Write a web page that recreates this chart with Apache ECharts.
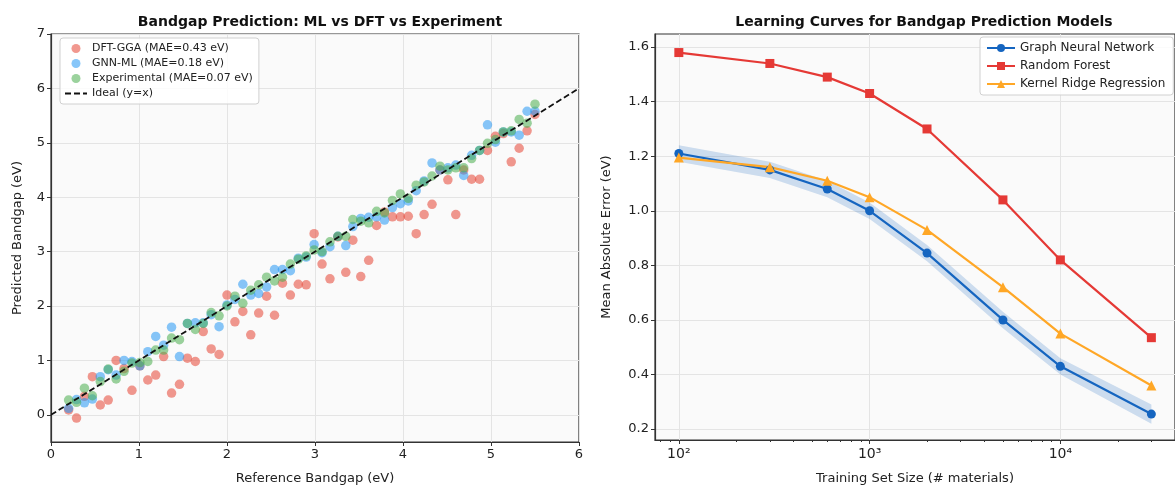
<!DOCTYPE html>
<html>
<head>
<meta charset="utf-8">
<script src="https://cdn.jsdelivr.net/npm/echarts@6/dist/echarts.min.js"></script>
<style>
  html, body { margin: 0; padding: 0; background: #fff; }
  #chart { width: 1175px; height: 490px; }
</style>
</head>
<body>
<div id="chart"></div>
<script>
// ---- left panel: predicted vs reference bandgap ----
const refGap = [0.20, 0.29, 0.38, 0.47, 0.56, 0.65, 0.74, 0.83, 0.92, 1.01,
  1.10, 1.19, 1.28, 1.37, 1.46, 1.55, 1.64, 1.73, 1.82, 1.91,
  2.00, 2.09, 2.18, 2.27, 2.36, 2.45, 2.54, 2.63, 2.72, 2.81,
  2.90, 2.99, 3.08, 3.17, 3.26, 3.35, 3.43, 3.52, 3.61, 3.70,
  3.79, 3.88, 3.97, 4.06, 4.15, 4.24, 4.33, 4.42, 4.51, 4.60,
  4.69, 4.78, 4.87, 4.96, 5.05, 5.14, 5.23, 5.32, 5.41, 5.50];
const dftPred = [0.09, -0.06, 0.34, 0.70, 0.18, 0.27, 1.00, 0.85, 0.45, 0.90,
  0.64, 0.73, 1.07, 0.40, 0.56, 1.04, 0.98, 1.53, 1.21, 1.11,
  2.20, 1.71, 1.90, 1.47, 1.87, 2.18, 1.83, 2.42, 2.20, 2.40,
  2.39, 3.33, 2.77, 2.50, 3.27, 2.62, 3.21, 2.54, 2.84, 3.48,
  3.73, 3.64, 3.64, 3.65, 3.33, 3.68, 3.87, 4.50, 4.32, 3.68,
  4.50, 4.33, 4.33, 4.86, 5.12, 5.17, 4.65, 4.90, 5.22, 5.52];
const gnnPred = [0.12, 0.28, 0.22, 0.29, 0.70, 0.83, 0.73, 1.00, 0.98, 0.90,
  1.16, 1.44, 1.28, 1.61, 1.07, 1.68, 1.69, 1.69, 1.84, 1.62,
  2.02, 2.12, 2.40, 2.20, 2.23, 2.35, 2.67, 2.67, 2.65, 2.88,
  2.90, 3.13, 2.98, 3.09, 3.28, 3.11, 3.46, 3.61, 3.63, 3.64,
  3.58, 3.81, 3.88, 3.93, 4.12, 4.30, 4.63, 4.50, 4.54, 4.59,
  4.40, 4.77, 4.86, 5.33, 5.01, 5.20, 5.20, 5.14, 5.58, 5.58];
const expPred = [0.27, 0.23, 0.49, 0.35, 0.61, 0.84, 0.66, 0.80, 0.95, 0.96,
  0.98, 1.19, 1.19, 1.41, 1.38, 1.68, 1.57, 1.68, 1.88, 1.82,
  2.00, 2.18, 2.05, 2.29, 2.39, 2.53, 2.46, 2.53, 2.77, 2.86,
  2.92, 3.03, 3.00, 3.18, 3.28, 3.28, 3.59, 3.56, 3.53, 3.74,
  3.71, 3.94, 4.06, 3.98, 4.22, 4.28, 4.39, 4.57, 4.50, 4.54,
  4.54, 4.71, 4.86, 4.99, 5.06, 5.20, 5.22, 5.43, 5.36, 5.71];
const idealLine = [[0, 0], [6, 6]];
const leftYTicks = [0, 1, 2, 3, 4, 5, 6, 7];

// ---- right panel: learning curves ----
const trainSize = [100, 300, 600, 1000, 2000, 5000, 10000, 30000];
const gnnMae = [1.21, 1.15, 1.08, 1.00, 0.845, 0.60, 0.43, 0.255];
const gnnStd = [0.03, 0.03, 0.03, 0.03, 0.03, 0.03, 0.03, 0.035];
const rfMae = [1.58, 1.54, 1.49, 1.43, 1.30, 1.04, 0.82, 0.535];
const krrMae = [1.195, 1.16, 1.11, 1.05, 0.93, 0.72, 0.55, 0.36];
const rightYTicks = [0.2, 0.4, 0.6, 0.8, 1.0, 1.2, 1.4, 1.6];
const majorTicks = [100, 1000, 10000];
const minorTicks = [80, 90, 200, 300, 400, 500, 600, 700, 800, 900,
  2000, 3000, 4000, 5000, 6000, 7000, 8000, 9000, 20000, 30000];

const FONT = "DejaVu Sans";
const axisColor = "#333";
const gridLine = { show: true, lineStyle: { color: "#e4e4e4", width: 1 } };
const supers = { "2": "\u00b2", "3": "\u00b3", "4": "\u2074" };

function pairs(xs, ys) {
  return xs.map((x, i) => [x, ys[i]]);
}

// one polygon for the +/- band, drawn through the axis scales
function renderBand(params, api) {
  if (params.dataIndex !== 0) return;
  const upper = trainSize.map((x, i) => api.coord([x, gnnMae[i] + gnnStd[i]]));
  const lower = trainSize.map((x, i) => api.coord([x, gnnMae[i] - gnnStd[i]])).reverse();
  return {
    type: "polygon",
    shape: { points: upper.concat(lower) },
    style: { fill: "rgba(21,101,192,0.2)" },
    silent: true,
  };
}

const chart = echarts.init(document.getElementById("chart"));

const option = {
  backgroundColor: "#fff",
  textStyle: { fontFamily: FONT },
  title: [
    {
      text: "Bandgap Prediction: ML vs DFT vs Experiment",
      left: 315, top: 10, textAlign: "center",
      textStyle: { fontFamily: FONT, fontSize: 14, fontWeight: "bold", color: "#111" },
    },
    {
      text: "Learning Curves for Bandgap Prediction Models",
      left: 919, top: 10, textAlign: "center",
      textStyle: { fontFamily: FONT, fontSize: 14, fontWeight: "bold", color: "#111" },
    },
  ],
  legend: [
    {
      data: [
        "DFT-GGA (MAE=0.43 eV)",
        "GNN-ML (MAE=0.18 eV)",
        "Experimental (MAE=0.07 eV)",
        { name: "Ideal (y=x)", itemStyle: { opacity: 0 } },
      ],
      orient: "vertical",
      left: 60, top: 38,
      itemWidth: 22, itemHeight: 9, itemGap: 4,
      padding: [5, 6, 5, 4],
      backgroundColor: "rgba(255,255,255,0.85)",
      borderColor: "#d0d0d0", borderWidth: 1, borderRadius: 3,
      textStyle: { fontFamily: FONT, fontSize: 11, color: "#222" },
    },
    {
      data: ["Graph Neural Network", "Random Forest", "Kernel Ridge Regression"],
      orient: "vertical",
      left: 980, top: 37,
      itemWidth: 28, itemHeight: 10, itemGap: 6,
      padding: [5, 8, 5, 6],
      backgroundColor: "rgba(255,255,255,0.85)",
      borderColor: "#d0d0d0", borderWidth: 1, borderRadius: 3,
      textStyle: { fontFamily: FONT, fontSize: 12, color: "#222" },
    },
  ],
  grid: [
    { left: 51, top: 34, width: 528, height: 408, show: true, backgroundColor: "#fafafa", borderColor: axisColor, borderWidth: 1.2 },
    { left: 655, top: 34, width: 528, height: 408, show: true, backgroundColor: "#fafafa", borderColor: axisColor, borderWidth: 1.2 },
  ],
  xAxis: [
    {
      gridIndex: 0, type: "value", min: 0, max: 6, interval: 1,
      name: "Reference Bandgap (eV)", nameLocation: "middle", nameGap: 30,
      nameTextStyle: { fontFamily: FONT, fontSize: 13, color: "#222" },
      axisLine: { onZero: false, lineStyle: { color: axisColor, width: 1.2 } },
      axisTick: { show: true, length: 4, lineStyle: { color: axisColor } },
      axisLabel: { fontFamily: FONT, fontSize: 13, color: "#222", margin: 6 },
      splitLine: gridLine,
    },
    {
      gridIndex: 1, type: "log", logBase: 10, min: 75, max: 39900,
      name: "Training Set Size (# materials)", nameLocation: "middle", nameGap: 32,
      nameTextStyle: { fontFamily: FONT, fontSize: 13, color: "#222" },
      axisLine: { onZero: false, lineStyle: { color: axisColor, width: 1.2 } },
      axisTick: { show: true, length: 4, customValues: majorTicks, lineStyle: { color: axisColor } },
      axisLabel: {
        fontFamily: FONT, fontSize: 14, color: "#222", margin: 7,
        customValues: majorTicks,
        formatter: (v) => "10" + supers[String(Math.round(Math.log10(v)))],
      },
      splitLine: gridLine,
    },
    {
      gridIndex: 1, type: "log", logBase: 10, min: 75, max: 39900, position: "bottom",
      axisLine: { show: false, onZero: false },
      axisTick: { show: true, length: 2, customValues: minorTicks, lineStyle: { color: axisColor } },
      axisLabel: { show: false },
      splitLine: { show: false },
    },
  ],
  yAxis: [
    {
      gridIndex: 0, type: "value", min: -0.5, max: 7,
      name: "Predicted Bandgap (eV)", nameLocation: "middle", nameGap: 27,
      nameTextStyle: { fontFamily: FONT, fontSize: 13, color: "#222" },
      axisLine: { show: true, onZero: false, lineStyle: { color: axisColor, width: 1.2 } },
      axisTick: { show: true, length: 4, customValues: leftYTicks, lineStyle: { color: axisColor } },
      axisLabel: { fontFamily: FONT, fontSize: 13, color: "#222", margin: 6, customValues: leftYTicks },
      splitLine: gridLine,
    },
    {
      gridIndex: 1, type: "value", min: 0.16, max: 1.648,
      name: "Mean Absolute Error (eV)", nameLocation: "middle", nameGap: 42,
      nameTextStyle: { fontFamily: FONT, fontSize: 13, color: "#222" },
      axisLine: { show: true, onZero: false, lineStyle: { color: axisColor, width: 1.2 } },
      axisTick: { show: true, length: 4, customValues: rightYTicks, lineStyle: { color: axisColor } },
      axisLabel: {
        fontFamily: FONT, fontSize: 13, color: "#222", margin: 6,
        customValues: rightYTicks,
        formatter: (v) => v.toFixed(1),
      },
      splitLine: gridLine,
    },
  ],
  series: [
    {
      name: "DFT-GGA (MAE=0.43 eV)", type: "scatter", xAxisIndex: 0, yAxisIndex: 0,
      symbolSize: 9.5, itemStyle: { color: "rgba(231,76,60,0.72)" },
      data: pairs(refGap, dftPred),
    },
    {
      name: "GNN-ML (MAE=0.18 eV)", type: "scatter", xAxisIndex: 0, yAxisIndex: 0,
      symbolSize: 9.5, itemStyle: { color: "rgba(33,150,243,0.68)" },
      data: pairs(refGap, gnnPred),
    },
    {
      name: "Experimental (MAE=0.07 eV)", type: "scatter", xAxisIndex: 0, yAxisIndex: 0,
      symbolSize: 9.5, itemStyle: { color: "rgba(76,175,80,0.7)" },
      data: pairs(refGap, expPred),
    },
    {
      name: "Ideal (y=x)", type: "line", xAxisIndex: 0, yAxisIndex: 0,
      showSymbol: false, symbol: "none", z: 5,
      lineStyle: { color: "#111", width: 1.8, type: [6, 3] },
      itemStyle: { color: "#111" },
      data: idealLine,
    },
    {
      name: "gnn-band", type: "custom", xAxisIndex: 1, yAxisIndex: 1,
      renderItem: renderBand, silent: true, z: 1,
      data: pairs(trainSize, gnnMae),
    },
    {
      name: "Graph Neural Network", type: "line", xAxisIndex: 1, yAxisIndex: 1,
      symbol: "circle", symbolSize: 9, z: 4,
      lineStyle: { color: "#1565C0", width: 2.2 },
      itemStyle: { color: "#1565C0" },
      data: pairs(trainSize, gnnMae),
    },
    {
      name: "Random Forest", type: "line", xAxisIndex: 1, yAxisIndex: 1,
      symbol: "rect", symbolSize: 9, z: 4,
      lineStyle: { color: "#E53935", width: 2.2 },
      itemStyle: { color: "#E53935" },
      data: pairs(trainSize, rfMae),
    },
    {
      name: "Kernel Ridge Regression", type: "line", xAxisIndex: 1, yAxisIndex: 1,
      symbol: "triangle", symbolSize: 10, z: 4,
      lineStyle: { color: "#FFA726", width: 2.2 },
      itemStyle: { color: "#FFA726" },
      data: pairs(trainSize, krrMae),
    },
  ],
};

chart.setOption(option);
</script>
</body>
</html>
